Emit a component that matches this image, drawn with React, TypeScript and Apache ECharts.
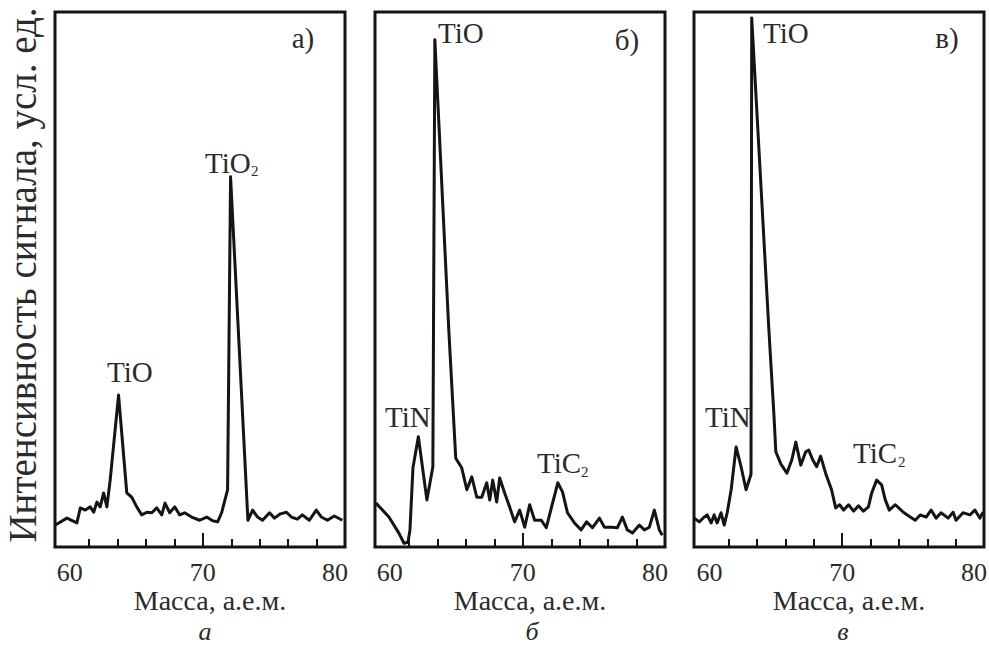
import React, { useEffect, useRef } from "react";
import * as echarts from "echarts";

// Panel а — mass (a.e.m.) and signal intensity (arb. units, 0..100 of panel height)
const massA = [59.62, 60.44, 61.14, 61.38, 61.73, 62.08, 62.32, 62.55, 62.78, 63.02, 63.25, 63.48, 64.07, 64.65, 65.0, 65.35, 65.7, 66.06, 66.41, 66.76, 67.11, 67.34, 67.67, 68.02, 68.37, 68.72, 69.21, 69.78, 70.27, 70.69, 71.04, 71.32, 71.74, 71.95, 73.17, 73.5, 73.85, 74.2, 74.69, 75.04, 75.46, 75.88, 76.23, 76.65, 77.0, 77.49, 77.98, 78.34, 78.76, 79.25, 79.81];
const intA = [4.1, 5.4, 4.5, 7.3, 6.9, 7.5, 6.5, 8.4, 7.5, 10.1, 7.5, 12.5, 28.4, 10.1, 9.3, 7.5, 6.0, 6.5, 6.4, 7.3, 6.0, 8.2, 6.4, 7.5, 6.0, 6.4, 5.6, 5.0, 5.6, 4.9, 4.7, 6.4, 10.7, 69.2, 5.0, 6.9, 5.6, 5.0, 6.4, 5.4, 6.2, 6.5, 5.6, 5.2, 6.0, 5.0, 6.9, 5.6, 5.0, 5.8, 5.0];

// Panel б
const massB = [59.67, 60.58, 61.28, 61.64, 61.92, 62.06, 62.27, 62.65, 63.25, 63.67, 63.81, 64.79, 65.28, 65.7, 66.06, 66.41, 66.76, 67.11, 67.46, 67.67, 67.88, 68.16, 68.37, 68.72, 69.07, 69.42, 69.78, 70.13, 70.48, 70.83, 71.3, 71.65, 72.09, 72.46, 72.79, 73.14, 73.63, 74.1, 74.48, 74.9, 75.39, 75.74, 76.24, 76.65, 77.0, 77.35, 77.71, 78.2, 78.55, 78.9, 79.25, 79.6, 79.81];
const intB = [8.2, 5.6, 2.6, 0.7, 0.9, 3.2, 14.8, 20.6, 8.8, 15.0, 94.8, 40.6, 16.6, 14.8, 10.7, 13.1, 9.3, 9.3, 12.0, 8.8, 12.5, 8.4, 12.9, 10.1, 7.5, 4.7, 6.9, 3.7, 7.9, 5.0, 5.0, 3.6, 8.2, 12.0, 10.3, 6.4, 4.5, 3.2, 4.7, 3.6, 5.4, 3.7, 3.7, 3.6, 5.6, 3.2, 2.6, 4.1, 3.2, 3.7, 6.9, 3.2, 2.2];

// Panel в
const massC = [59.57, 59.92, 60.27, 60.48, 60.76, 60.97, 61.18, 61.46, 61.68, 61.89, 62.17, 62.52, 62.87, 63.22, 63.57, 63.62, 64.83, 65.18, 65.32, 65.68, 66.1, 66.45, 66.73, 67.08, 67.43, 67.64, 67.92, 68.2, 68.48, 68.83, 69.25, 69.54, 69.82, 70.1, 70.45, 70.8, 71.15, 71.5, 71.85, 72.08, 72.43, 72.78, 73.04, 73.32, 73.75, 74.31, 74.8, 75.15, 75.5, 75.92, 76.27, 76.62, 76.97, 77.47, 77.82, 78.03, 78.52, 79.01, 79.36, 79.71, 79.92];
const intC = [5.4, 4.7, 5.6, 6.0, 4.5, 6.0, 4.5, 6.4, 4.1, 6.4, 10.7, 18.7, 15.0, 10.7, 13.6, 98.9, 40.6, 25.0, 17.8, 15.5, 13.8, 16.3, 19.6, 15.3, 17.8, 18.1, 16.3, 15.0, 17.0, 13.8, 10.7, 7.3, 7.9, 6.9, 7.9, 6.7, 7.7, 6.7, 7.5, 10.1, 12.5, 11.6, 8.8, 6.9, 7.9, 6.5, 5.6, 5.0, 6.0, 5.6, 6.9, 5.4, 6.4, 5.4, 6.5, 5.0, 6.4, 6.0, 6.9, 5.4, 6.5];

const tickLabels = [60, 70, 80];
const minorTicks = [62, 64, 66, 68, 72, 74, 76, 78];
const majorTicks = [70];
const xRanges = [[59.6, 80], [59.6, 80], [59.55, 80]];
const panelTags = ["а)", "б)", "в)"];
const captions = ["а", "б", "в"];
const yTitle = "Интенсивность сигнала, усл. ед.";
const xTitle = "Масса, а.е.м.";

const FONT = "Liberation Serif";
const TEXT = "#2b2b2b";
const INK = "#141414";

const gridLefts = [55, 375, 694];

function txt(x: number, y: number, s: string, size: number, extra: any = {}) {
  return {
    type: "text",
    x,
    y,
    style: {
      text: s,
      fontFamily: FONT,
      fontSize: size,
      fill: TEXT,
      align: "left",
      verticalAlign: "middle",
      ...extra,
    },
  };
}

export default function App() {
  const ref = useRef<HTMLDivElement>(null);
  useEffect(() => {
    if (!ref.current) return;
    const chart = echarts.init(ref.current, null, { renderer: "svg" });
    const series = [
      [massA, intA],
      [massB, intB],
      [massC, intC],
    ];
    const labelStyle = { fontFamily: FONT, fontSize: 26, color: TEXT, lineHeight: 18 };
    const nameStyle = { fontFamily: FONT, fontSize: 28, color: TEXT, lineHeight: 18 };
    const option: any = {
      animation: false,
      backgroundColor: "#ffffff",
      grid: gridLefts.map((l) => ({
        left: l,
        top: 12,
        width: 290,
        height: 535,
        show: true,
        borderColor: INK,
        borderWidth: 3,
        backgroundColor: "transparent",
        containLabel: false,
        outerBoundsMode: "none",
      })),
      xAxis: [
        ...gridLefts.map((_, i) => ({
          type: "value",
          gridIndex: i,
          min: xRanges[i][0],
          max: xRanges[i][1],
          position: "bottom",
          axisLine: { show: false },
          splitLine: { show: false },
          axisTick: {
            show: true,
            inside: true,
            length: 8,
            customValues: minorTicks,
            lineStyle: { color: INK, width: 2 },
          },
          axisLabel: {
            show: true,
            customValues: tickLabels,
            margin: 16,
            ...labelStyle,
            formatter: (v: number) =>
              v === 60 ? "{l|60}" : v === 80 ? "{r|80}" : "{c|" + v + "}",
            rich: {
              l: { ...labelStyle, padding: [0, 0, 0, 18] },
              r: { ...labelStyle, padding: [0, 20, 0, 0] },
              c: { ...labelStyle },
            },
          },
          name: xTitle,
          nameLocation: "middle",
          nameGap: 44,
          nameMoveOverlap: false,
          nameTextStyle: { ...nameStyle, padding: [0, 0, 0, 20] },
        })),
        ...gridLefts.map((_, i) => ({
          type: "value",
          gridIndex: i,
          min: xRanges[i][0],
          max: xRanges[i][1],
          position: "bottom",
          axisLine: { show: false },
          splitLine: { show: false },
          axisLabel: { show: false },
          axisTick: {
            show: true,
            inside: true,
            length: 14,
            customValues: majorTicks,
            lineStyle: { color: INK, width: 2 },
          },
        })),
      ],
      yAxis: gridLefts.map((_, i) => ({
        type: "value",
        gridIndex: i,
        min: 0,
        max: 100,
        show: false,
      })),
      series: series.map(([m, v], i) => ({
        type: "line",
        xAxisIndex: i,
        yAxisIndex: i,
        data: m.map((x, k) => [x, v[k]]),
        showSymbol: false,
        symbol: "none",
        lineStyle: { color: INK, width: 3, join: "round" },
        clip: true,
      })),
      graphic: [
        {
          type: "text",
          x: 22,
          y: 275,
          rotation: Math.PI / 2,
          style: {
            text: yTitle,
            fontFamily: FONT,
            fontSize: 39,
            fill: TEXT,
            align: "center",
            verticalAlign: "middle",
          },
        },
        // panel tags
        txt(303, 38, panelTags[0], 29, { align: "center" }),
        txt(627, 40, panelTags[1], 29, { align: "center" }),
        txt(947, 38, panelTags[2], 29, { align: "center" }),
        // captions
        txt(205, 631, captions[0], 26, { align: "center", fontStyle: "italic" }),
        txt(532, 631, captions[1], 26, { align: "center", fontStyle: "italic" }),
        txt(843, 631, captions[2], 26, { align: "center", fontStyle: "italic" }),
        // peak labels panel а
        txt(107, 372, "TiO", 29),
        txt(205, 163, "TiO", 29),
        txt(251, 171, "2", 15),
        // panel б
        txt(438, 33, "TiO", 29),
        txt(385, 417, "TiN", 29),
        txt(537, 463, "TiC", 29),
        txt(581, 472, "2", 15),
        // panel в
        txt(763, 33, "TiO", 29),
        txt(705, 417, "TiN", 29),
        txt(853, 453, "TiC", 29),
        txt(898, 462, "2", 15),
      ],
    };
    chart.setOption(option);
    return () => chart.dispose();
  }, []);
  return (
    <div
      ref={ref}
      style={{ position: "absolute", left: 0, top: 0, width: 989, height: 651, background: "#fff" }}
    />
  );
}
